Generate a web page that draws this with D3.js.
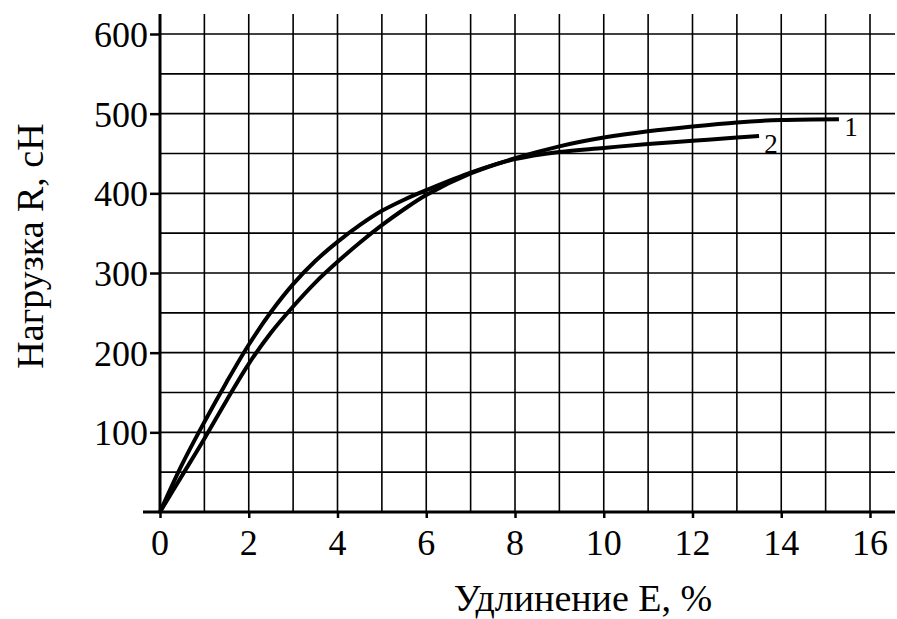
<!DOCTYPE html>
<html><head><meta charset="utf-8">
<script src="https://cdn.jsdelivr.net/npm/d3@7"></script>
</head><body style="margin:0">
<svg id="c" width="897" height="619"></svg>
<script>
// Data
const xTicks = [0, 2, 4, 6, 8, 10, 12, 14, 16];
const yTicks = [100, 200, 300, 400, 500, 600];
const xGrid = [1,2,3,4,5,6,7,8,9,10,11,12,13,14,15,16];
const yGrid = [50,100,150,200,250,300,350,400,450,500,550,600];
const curve1E = [0, 0.5, 1, 1.5, 2, 2.5, 3, 3.5, 4, 4.5, 5, 5.5, 6, 7, 8, 9, 10, 11, 12, 13, 14, 15.3];
const curve1R = [0, 46, 92, 140, 186, 225, 258, 288, 314, 338, 360, 380, 398, 425, 444, 459, 470, 478, 484, 489, 492, 493];
const curve2E = [0, 0.5, 1, 1.5, 2, 2.5, 3, 3.5, 4, 4.5, 5, 5.5, 6, 7, 8, 9, 10, 11, 12, 13, 13.5];
const curve2R = [0, 60, 113, 163, 210, 251, 286, 315, 339, 360, 378, 392, 404, 426, 443, 452, 457, 462, 466, 470, 472];
const curveLabels = ["1", "2"];
const xTitle = "Удлинение E, %";
const yTitle = "Нагрузка R, сН";

const svg = d3.select("#c");
const x = d3.scaleLinear().domain([0, 16]).range([160, 870]);
const y = d3.scaleLinear().domain([0, 600]).range([512, 34]);
const font = "Liberation Serif";

// grid
const g = svg.append("g").attr("stroke", "#000").attr("stroke-width", 1.6);
g.selectAll("line.v").data(xGrid).join("line")
  .attr("x1", d => x(d)).attr("x2", d => x(d)).attr("y1", 14).attr("y2", y(0));
g.selectAll("line.h").data(yGrid).join("line")
  .attr("x1", x(0)).attr("x2", 895).attr("y1", d => y(d)).attr("y2", d => y(d));

// axes: tick marks from d3 axes
const ya = svg.append("g").attr("transform", `translate(${x(0)},0)`)
  .call(d3.axisLeft(y).tickValues(yTicks).tickSize(10).tickFormat(""));
const xa = svg.append("g").attr("transform", `translate(0,${y(0)})`)
  .call(d3.axisBottom(x).tickValues(xTicks).tickSize(6).tickFormat(""));
[ya, xa].forEach(a => {
  a.select(".domain").remove();
  a.selectAll(".tick text").remove();
  a.selectAll(".tick line").attr("stroke", "#000").attr("stroke-width", 2.5);
});
svg.append("line").attr("x1", x(0)).attr("x2", x(0)).attr("y1", 14).attr("y2", y(0) + 1.5)
  .attr("stroke", "#000").attr("stroke-width", 3);
svg.append("line").attr("x1", 143).attr("x2", 895).attr("y1", y(0)).attr("y2", y(0))
  .attr("stroke", "#000").attr("stroke-width", 3);

// tick labels: small font scaled up 2x
function label(px, py, txt, anchor, size, rot) {
  svg.append("g").attr("transform", `translate(${px},${py})` + (rot ? ` rotate(${rot})` : "") + " scale(2)")
    .append("text").attr("text-anchor", anchor).attr("font-family", font)
    .attr("font-size", size).attr("fill", "#000").text(txt);
}
yTicks.forEach(v => label(x(0) - 12, y(v) + 13, v, "end", 18));
xTicks.forEach(v => label(x(v), y(0) + 43, v, "middle", 18));

// curves
const line = d3.line().x(d => x(d[0])).y(d => y(d[1])).curve(d3.curveCatmullRom.alpha(0.5));
const series = [d3.zip(curve1E, curve1R), d3.zip(curve2E, curve2R)];
svg.selectAll("path.curve").data(series).join("path")
  .attr("d", line).attr("fill", "none").attr("stroke", "#000").attr("stroke-width", 4);

// curve labels
svg.selectAll("text.cl").data(series).join("text")
  .attr("x", (d) => x(d[d.length - 1][0]) + 12)
  .attr("y", (d) => y(d[d.length - 1][1]) + 17)
  .attr("text-anchor", "middle")
  .attr("font-family", font).attr("font-size", 27)
  .text((d, i) => curveLabels[i]);

// titles
label(583, 611, xTitle, "middle", 19);
label(43, 246, yTitle, "middle", 19, -90);
</script>
</body></html>
